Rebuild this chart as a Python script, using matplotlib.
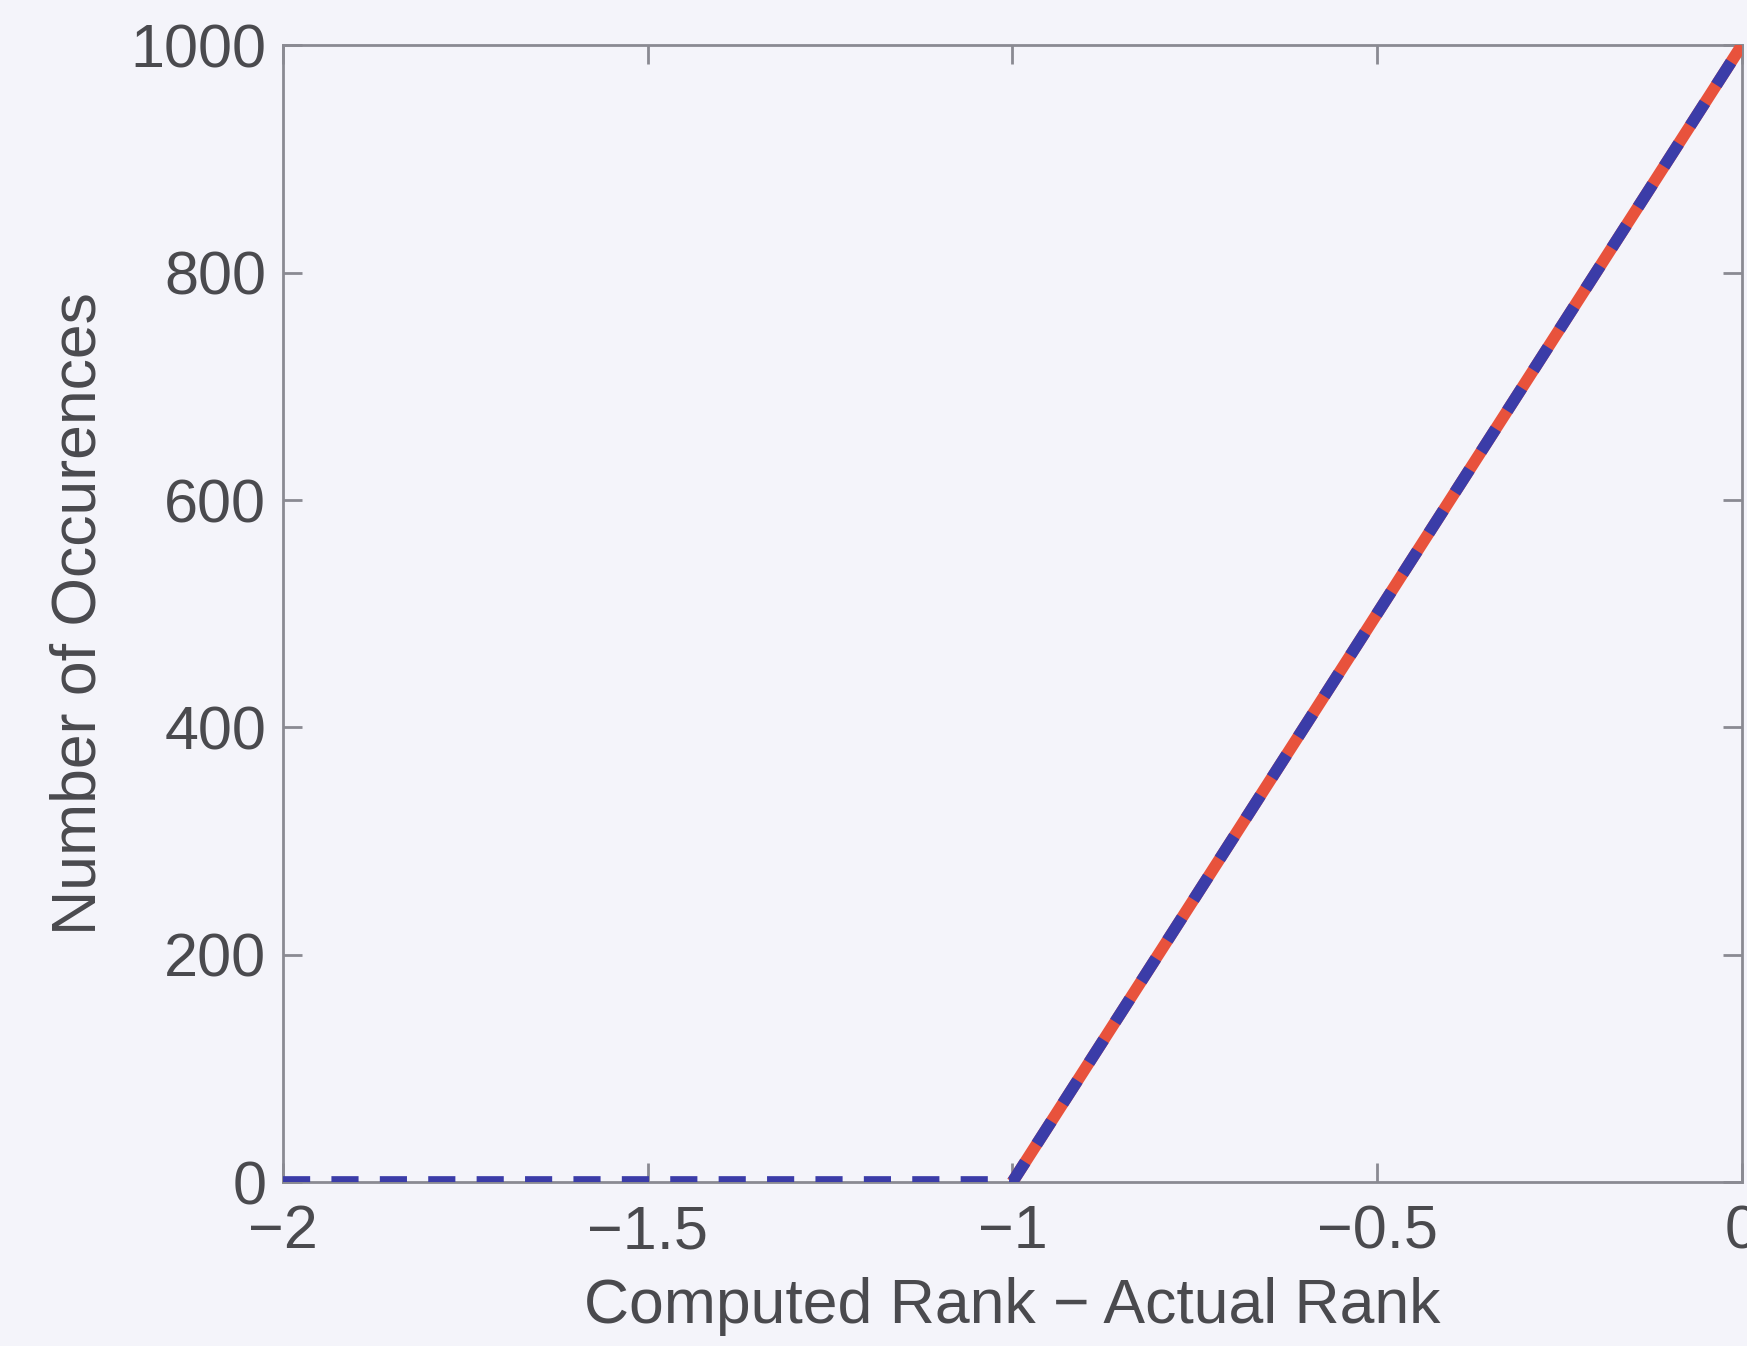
import matplotlib.pyplot as plt

plt.rcParams['font.family'] = ['Liberation Sans', 'DejaVu Sans']

# rank error vs. count of occurrences
rank_err_fit = [-1, 0]
count_fit = [0, 1000]
rank_err = [-2, -1, 0]
count = [0, 0, 1000]

x_ticks = [-2, -1.5, -1, -0.5, 0]
x_tick_labels = ['\u22122', '\u22121.5', '\u22121', '\u22120.5', '0']
y_ticks = [0, 200, 400, 600, 800, 1000]

bg = '#f4f4fa'
txt = '#4a4a4e'
spine = '#8a8a92'

fig = plt.figure(figsize=(17.47, 13.46), dpi=100, facecolor=bg)
ax = fig.add_axes([0.1620, 0.1218, 0.8350, 0.8445], facecolor=bg)

ax.plot(rank_err_fit, count_fit, color='#e8523c', lw=8.5, solid_capstyle='butt', zorder=3)
line, = ax.plot(rank_err, count, color='#3b3ca8', lw=8.5, zorder=4)
line.set_dashes((2.3, 1.8))
line.set_dash_capstyle('butt')

ax.set_xlim(-2, 0)
ax.set_ylim(0, 1000)
ax.set_xticks(x_ticks)
ax.set_xticklabels(x_tick_labels)
ax.set_yticks(y_ticks)

for s in ax.spines.values():
    s.set_color(spine)
    s.set_linewidth(2)

ax.tick_params(direction='in', length=14, width=2, color=spine,
               labelsize=44, labelcolor=txt, top=True, right=True)
ax.tick_params(axis='x', pad=16)
ax.tick_params(axis='y', pad=12)

ax.set_xlabel('Computed Rank \u2212 Actual Rank', fontsize=45, color=txt, labelpad=11)
ax.set_ylabel('Number of Occurences', fontsize=45, color=txt, labelpad=16)

fig.savefig('out.png', dpi=100, facecolor=bg)
